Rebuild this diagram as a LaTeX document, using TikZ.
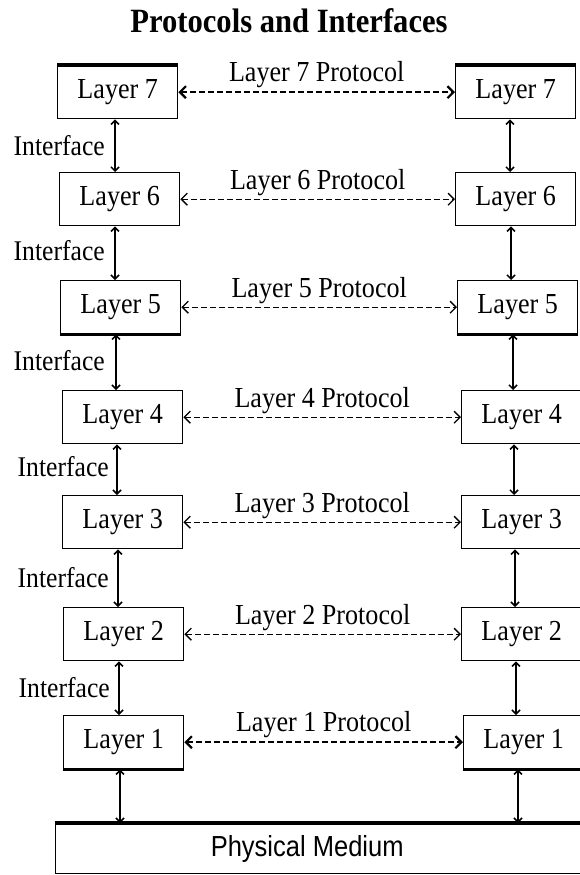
\documentclass[tikz,border=0pt]{standalone}
\usepackage{fontspec}
\setmainfont{Liberation Serif}[FakeStretch=0.9]
\newfontfamily\pmfont{Liberation Sans}[FakeStretch=0.88]
\usetikzlibrary{arrows.meta}
\begin{document}
\begin{tikzpicture}[x=1pt,y=-1pt,
  layerbox/.style={draw, line width=1.4pt, minimum width=120pt, minimum height=53pt,
    inner sep=0pt, anchor=north west, font=\fontsize{29}{32}\selectfont},
  proto/.style={dash pattern=on 6pt off 3pt, line width=1.3pt,
    arrows={Straight Barb[length=6pt,width=12pt]-Straight Barb[length=6pt,width=12pt]}},
  protothick/.style={proto, line width=2.2pt},
  plabel/.style={midway, above=3pt, inner sep=0pt, font=\fontsize{29}{32}\selectfont},
  iface/.style={line width=1.5pt,
    arrows={Straight Barb[length=4pt,width=8pt]-Straight Barb[length=4pt,width=8pt]}},
  ilabel/.style={anchor=east, inner sep=0pt, font=\fontsize{28.5}{31}\selectfont},
  thickedge/.style={line width=3.2pt}
]
\useasboundingbox (0,0) rectangle (579,875);

% title
\node[font=\bfseries\fontsize{34}{38}\selectfont] (title) at (289,21) {Protocols and Interfaces};

% left stack
\node[layerbox] (L7) at (57,65)  {Layer 7};
\node[layerbox] (L6) at (59,172) {Layer 6};
\node[layerbox] (L5) at (60,280) {Layer 5};
\node[layerbox] (L4) at (62,390) {Layer 4};
\node[layerbox] (L3) at (62,495) {Layer 3};
\node[layerbox] (L2) at (63,607) {Layer 2};
\node[layerbox] (L1) at (63,715) {Layer 1};

% right stack
\node[layerbox] (R7) at (455,65)  {Layer 7};
\node[layerbox] (R6) at (455,172) {Layer 6};
\node[layerbox] (R5) at (457,280) {Layer 5};
\node[layerbox] (R4) at (461,390) {Layer 4};
\node[layerbox] (R3) at (461,495) {Layer 3};
\node[layerbox] (R2) at (461,607) {Layer 2};
\node[layerbox] (R1) at (463,715) {Layer 1};

% physical medium
\node[draw, line width=1.4pt, minimum width=535pt, minimum height=50pt, inner sep=0pt,
  anchor=north west, font=\pmfont\fontsize{29}{32}\selectfont] (PM) at (55,823)
  {\hspace*{-32pt}Physical Medium};

% thick scan edges
\draw[thickedge] (L7.north west) -- (L7.north east);
\draw[thickedge] (R7.north west) -- (R7.north east);
\draw[thickedge] (L5.south west) -- (L5.south east);
\draw[thickedge] (R5.south west) -- (R5.south east);
\draw[thickedge] (L1.south west) -- (L1.south east);
\draw[thickedge] (R1.south west) -- (R1.south east);
\draw[thickedge] (PM.north west) -- (PM.north east);

% protocols
\draw[protothick] (L7.east) -- node[plabel] {Layer 7 Protocol} (R7.west);
\draw[proto] (L6.east) -- node[plabel] {Layer 6 Protocol} (R6.west);
\draw[proto] (L5.east) -- node[plabel] {Layer 5 Protocol} (R5.west);
\draw[proto] (L4.east) -- node[plabel] {Layer 4 Protocol} (R4.west);
\draw[proto] (L3.east) -- node[plabel] {Layer 3 Protocol} (R3.west);
\draw[proto] (L2.east) -- node[plabel] {Layer 2 Protocol} (R2.west);
\draw[protothick] (L1.east) -- node[plabel] {Layer 1 Protocol} (R1.west);

% left interfaces
\draw[iface] (115,0 |- L7.south) -- (115,0 |- L6.north);
\draw[iface] (115,0 |- L6.south) -- (115,0 |- L5.north);
\draw[iface] (116,0 |- L5.south) -- (116,0 |- L4.north);
\draw[iface] (117,0 |- L4.south) -- (117,0 |- L3.north);
\draw[iface] (118,0 |- L3.south) -- (118,0 |- L2.north);
\draw[iface] (119,0 |- L2.south) -- (119,0 |- L1.north);
\draw[iface] (120,0 |- L1.south) -- (120,0 |- PM.north);

\node[ilabel] (I76) at (105,146) {Interface};
\node[ilabel] (I65) at (105,251) {Interface};
\node[ilabel] (I54) at (105,361) {Interface};
\node[ilabel] (I43) at (109,467) {Interface};
\node[ilabel] (I32) at (109,578) {Interface};
\node[ilabel] (I21) at (110,688) {Interface};

% right interfaces
\draw[iface] (510,0 |- R7.south) -- (510,0 |- R6.north);
\draw[iface] (511,0 |- R6.south) -- (511,0 |- R5.north);
\draw[iface] (513,0 |- R5.south) -- (513,0 |- R4.north);
\draw[iface] (514,0 |- R4.south) -- (514,0 |- R3.north);
\draw[iface] (515,0 |- R3.south) -- (515,0 |- R2.north);
\draw[iface] (516,0 |- R2.south) -- (516,0 |- R1.north);
\draw[iface] (518,0 |- R1.south) -- (518,0 |- PM.north);
\end{tikzpicture}
\end{document}
